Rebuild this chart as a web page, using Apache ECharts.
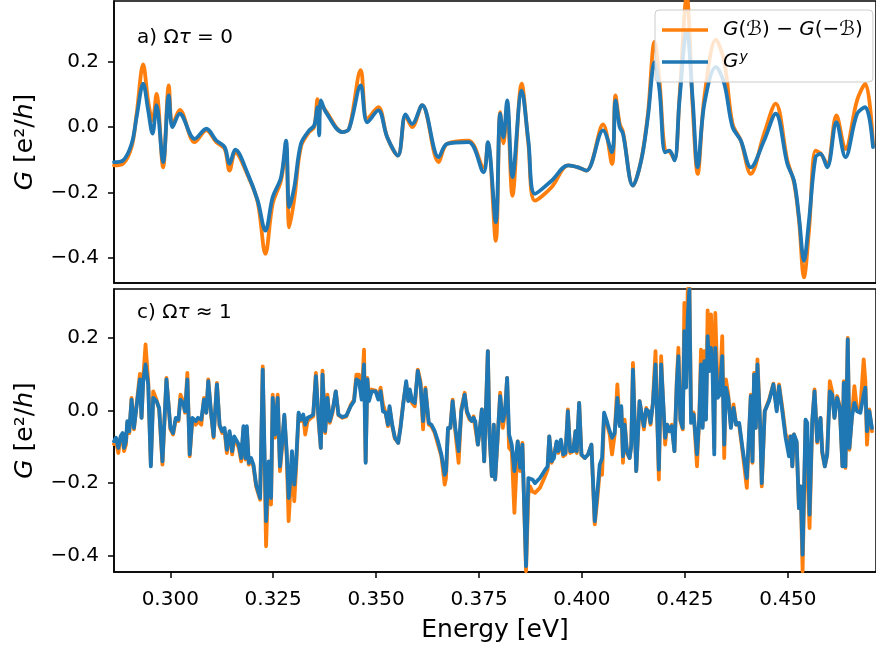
<!DOCTYPE html>
<html>
<head>
<meta charset="utf-8">
<script src="https://cdn.jsdelivr.net/npm/echarts@6/dist/echarts.min.js"></script>
<style>
html,body{margin:0;padding:0;background:#fff;}
#chart{width:876px;height:651px;}
</style>
</head>
<body>
<div id="chart"></div>
<script>
// ---------- tick labels ----------
const energyTicks = [0.300, 0.325, 0.350, 0.375, 0.400, 0.425, 0.450];
const gTicks = [-0.4, -0.2, 0.0, 0.2];

// ---------- panel a) Omega tau = 0 ----------
const energyA = [
0.28633,0.28851,0.29061,0.29182,0.29342,0.29463,0.29569,0.29666,0.29826,0.29964,
0.30053,0.30230,0.30593,0.30876,0.31118,0.31319,0.31440,0.31578,0.31882,0.32124,
0.32311,0.32487,0.32691,0.32812,0.32891,0.33012,0.33174,0.33375,0.33496,0.33576,
0.33617,0.33658,0.33779,0.34181,0.34343,0.34626,0.34786,0.35052,0.35270,0.35529,
0.35715,0.35875,0.36117,0.36521,0.36722,0.37247,0.37610,0.37714,0.37907,0.38014,
0.38093,0.38183,0.38311,0.38536,0.38698,0.38861,0.39262,0.39666,0.39908,0.40109,
0.40513,0.40731,0.40815,0.40917,0.40997,0.41239,0.41440,0.41602,0.41764,0.41885,
0.42020,0.42127,0.42248,0.42369,0.42545,0.42691,0.42811,0.42974,0.43254,0.43458,
0.43658,0.43859,0.44101,0.44425,0.44706,0.44989,0.45152,0.45273,0.45393,0.45515,
0.45674,0.45795,0.45957,0.46182,0.46400,0.46683,0.46884,0.47070];
const gyA = [
-0.107,-0.102,-0.051,0.031,0.133,0.051,-0.020,0.067,-0.107,0.097,
0.000,0.041,-0.036,-0.005,-0.041,-0.061,-0.112,-0.069,-0.143,-0.225,
-0.317,-0.215,-0.153,-0.041,-0.245,-0.184,-0.051,-0.010,0.005,0.061,
-0.025,0.082,0.046,-0.015,-0.005,0.128,0.015,0.051,-0.031,-0.087,
0.039,0.010,0.067,-0.092,-0.051,-0.046,-0.138,-0.046,-0.291,0.041,
-0.031,0.082,-0.153,0.112,-0.041,-0.204,-0.164,-0.117,-0.123,-0.133,
-0.010,-0.077,0.082,0.000,-0.020,-0.179,-0.102,0.031,0.199,0.112,
-0.077,-0.072,-0.102,0.082,0.297,0.082,-0.123,0.072,0.184,0.133,
0.000,-0.041,-0.123,-0.041,0.041,-0.112,-0.164,-0.276,-0.409,-0.286,
-0.092,-0.082,-0.123,0.015,-0.092,0.041,0.061,-0.061];
const diffA = [
-0.117,-0.112,-0.060,0.040,0.192,0.080,0.020,0.102,-0.123,0.128,
0.005,0.053,-0.046,-0.010,-0.046,-0.066,-0.133,-0.077,-0.148,-0.230,
-0.388,-0.235,-0.163,-0.060,-0.307,-0.220,-0.060,-0.015,0.000,0.086,
0.030,0.070,0.050,-0.015,-0.005,0.174,0.025,0.061,-0.031,-0.087,
0.035,0.000,0.067,-0.107,-0.051,-0.041,-0.123,-0.050,-0.348,0.046,
-0.050,0.061,-0.210,0.133,-0.050,-0.225,-0.184,-0.117,-0.123,-0.133,
0.008,-0.113,0.097,0.010,-0.015,-0.179,-0.100,0.040,0.261,0.140,
-0.072,-0.075,-0.100,0.090,0.400,0.061,-0.143,0.092,0.268,0.199,
0.010,-0.041,-0.143,-0.020,0.072,-0.102,-0.170,-0.286,-0.460,-0.317,
-0.072,-0.080,-0.113,0.036,-0.067,0.082,0.133,-0.055];

// ---------- panel c) Omega tau ~ 1 ----------
const energyC = [
0.28633,
0.28681,0.28738,0.28794,0.28843,0.28875,0.28923,0.28956,0.29004,0.29060,0.29117,
0.29165,0.29262,0.29302,0.29343,0.29399,0.29464,0.29528,0.29585,0.29665,0.29730,
0.29810,0.29907,0.30004,0.30069,0.30133,0.30198,0.30246,0.30311,0.30359,0.30415,
0.30472,0.30536,0.30617,0.30673,0.30754,0.30819,0.30875,0.30923,0.30988,0.31052,
0.31133,0.31198,0.31262,0.31319,0.31375,0.31440,0.31504,0.31553,0.31601,0.31665,
0.31722,0.31778,0.31827,0.31859,0.31907,0.31964,0.32020,0.32085,0.32182,0.32246,
0.32286,0.32327,0.32391,0.32448,0.32488,0.32544,0.32609,0.32665,0.32714,0.32770,
0.32827,0.32875,0.32907,0.32956,0.33012,0.33053,0.33117,0.33174,0.33230,0.33278,
0.33335,0.33416,0.33472,0.33537,0.33601,0.33657,0.33698,0.33762,0.33819,0.33875,
0.33940,0.34020,0.34085,0.34182,0.34278,0.34383,0.34464,0.34520,
0.34585,0.34650,0.34706,0.34746,0.34787,0.34827,0.34891,0.34988,0.35053,0.35109,
0.35166,0.35230,0.35287,0.35327,0.35391,0.35456,0.35537,0.35593,0.35658,0.35730,
0.35779,0.35819,0.35875,0.35940,0.36012,0.36077,0.36141,0.36198,0.36279,0.36343,
0.36424,0.36504,0.36585,0.36666,0.36698,0.36746,0.36803,0.36859,0.36924,0.37004,
0.37069,0.37150,0.37206,0.37271,0.37327,0.37367,0.37408,0.37472,0.37513,0.37569,
0.37625,0.37666,0.37714,0.37754,0.37811,0.37859,0.37892,0.37956,0.38013,0.38077,
0.38133,0.38182,0.38230,0.38295,0.38359,0.38440,0.38497,0.38553,0.38601,0.38642,
0.38698,0.38738,0.38795,0.38859,0.38980,0.39085,0.39166,0.39206,0.39263,0.39319,
0.39384,0.39424,0.39488,0.39545,0.39601,0.39658,0.39714,0.39787,0.39843,0.39875,
0.39932,0.39988,0.40069,0.40150,0.40230,0.40311,0.40376,0.40432,0.40489,0.40537,
0.40593,
0.40634,0.40674,0.40731,0.40795,0.40860,0.40916,0.40956,0.40997,0.41037,0.41093,
0.41158,0.41198,0.41239,0.41319,0.41400,0.41440,0.41505,0.41561,0.41618,0.41666,
0.41722,0.41787,0.41868,0.41924,0.41964,0.42021,0.42069,0.42126,0.42182,0.42247,
0.42303,0.42343,0.42392,0.42448,0.42488,0.42529,0.42569,0.42609,0.42650,0.42714,
0.42795,0.42851,0.42892,0.42932,0.42972,0.43013,0.43053,0.43093,0.43134,0.43174,
0.43214,0.43239,0.43295,0.43351,0.43408,0.43456,0.43497,0.43553,0.43618,0.43682,
0.43747,0.43819,0.43900,0.44005,0.44061,0.44102,0.44142,0.44182,0.44223,0.44263,
0.44328,0.44368,0.44440,0.44545,0.44650,0.44731,0.44787,0.44868,0.44948,0.45029,
0.45069,0.45110,0.45150,0.45215,0.45271,0.45311,0.45360,0.45432,0.45473,0.45529,
0.45594,0.45650,0.45715,0.45795,0.45836,0.45900,0.45957,0.46021,0.46078,0.46134,
0.46199,0.46263,0.46328,0.46360,0.46400,0.46457,0.46497,0.46561,0.46618,0.46682,
0.46763,0.46844,0.46884,0.46924,0.46981,0.47045];
const gyC = [
-0.085,
-0.075,-0.103,-0.071,-0.062,-0.103,-0.085,-0.029,-0.057,0.030,-0.048,
-0.052,0.086,-0.020,0.081,0.127,0.072,-0.154,0.035,0.026,0.007,
-0.140,0.086,-0.048,-0.062,-0.020,-0.025,0.030,0.021,-0.002,0.086,
-0.121,-0.020,-0.029,-0.020,-0.025,0.030,-0.006,0.081,-0.002,-0.071,
0.072,-0.039,-0.057,-0.048,-0.108,-0.057,-0.112,-0.071,-0.066,-0.094,
-0.131,-0.043,-0.131,-0.043,-0.144,-0.131,-0.149,-0.204,-0.241,0.113,
0.118,-0.305,-0.140,-0.241,0.035,-0.066,0.035,-0.154,-0.094,-0.011,
-0.112,-0.241,-0.204,-0.112,-0.204,-0.149,-0.006,-0.025,-0.011,-0.039,
-0.020,-0.016,-0.011,0.095,-0.020,-0.103,0.099,-0.057,0.035,-0.029,
-0.002,0.053,-0.011,-0.018,-0.014,0.012,0.026,0.086,
0.081,0.030,0.127,-0.144,0.086,0.026,0.053,0.053,0.030,0.053,
-0.002,-0.006,-0.039,0.012,-0.039,-0.075,-0.089,-0.048,0.017,0.081,
0.026,0.058,0.026,0.021,0.109,0.072,-0.029,0.058,-0.034,-0.039,
-0.057,-0.085,-0.121,-0.177,-0.167,-0.048,-0.048,0.026,-0.048,-0.112,
-0.002,0.044,-0.002,-0.020,-0.029,-0.020,-0.029,-0.094,-0.057,0.003,
-0.140,-0.002,0.164,-0.066,-0.181,-0.039,-0.190,-0.066,0.040,-0.029,
-0.002,0.090,-0.066,-0.094,-0.167,-0.085,-0.158,-0.094,-0.094,-0.429,
-0.186,-0.181,-0.190,-0.200,-0.186,-0.167,-0.154,-0.071,-0.140,-0.131,
-0.085,-0.112,-0.080,-0.121,-0.117,-0.002,-0.112,-0.112,-0.057,-0.112,
0.021,-0.121,-0.131,-0.121,-0.094,-0.305,-0.223,-0.149,-0.131,-0.006,
-0.025,
-0.025,-0.057,-0.075,-0.062,0.035,-0.043,0.012,-0.126,-0.039,-0.112,
-0.131,-0.098,0.113,-0.167,0.026,-0.002,-0.043,0.003,-0.002,-0.034,
0.017,0.127,-0.163,0.127,0.044,-0.075,-0.039,-0.057,-0.043,-0.112,
0.072,0.150,-0.025,-0.048,0.219,0.063,0.256,0.334,-0.034,-0.011,
-0.121,-0.020,0.127,-0.048,0.136,-0.025,0.205,0.109,0.173,0.104,
-0.121,0.173,0.035,0.044,0.150,-0.094,0.063,0.035,-0.048,0.007,
-0.039,-0.034,-0.103,-0.186,-0.057,0.040,-0.140,0.099,-0.048,0.127,
-0.039,-0.200,-0.002,0.026,0.072,-0.002,0.067,-0.002,-0.075,-0.126,
-0.071,-0.154,-0.066,-0.085,-0.269,-0.209,-0.397,-0.025,-0.034,-0.287,
-0.029,0.053,-0.085,-0.020,-0.112,-0.154,-0.121,0.053,0.044,-0.020,
0.035,0.007,-0.154,0.076,-0.154,0.196,-0.103,-0.016,0.021,-0.002,
-0.006,0.044,0.063,-0.057,-0.002,-0.048];
const diffC = [
-0.092,
-0.085,-0.117,-0.075,-0.071,-0.112,-0.094,-0.034,-0.062,0.035,-0.052,
-0.057,0.101,-0.020,0.090,0.182,0.081,-0.149,0.053,0.030,0.003,
-0.149,0.090,-0.052,-0.066,-0.025,-0.029,0.044,0.026,-0.006,0.104,
-0.126,-0.025,-0.039,-0.029,-0.039,0.035,-0.006,0.086,-0.006,-0.075,
0.076,-0.043,-0.062,-0.057,-0.117,-0.062,-0.121,-0.075,-0.071,-0.103,
-0.140,-0.048,-0.135,-0.048,-0.149,-0.135,-0.154,-0.209,-0.246,0.122,
0.122,-0.374,-0.149,-0.259,0.044,-0.075,0.044,-0.167,-0.103,-0.016,
-0.121,-0.305,-0.241,-0.121,-0.250,-0.167,-0.011,-0.029,-0.016,-0.066,
-0.029,-0.020,-0.016,0.104,-0.029,-0.103,0.110,-0.062,0.044,-0.034,
-0.006,0.053,-0.013,-0.020,-0.016,0.015,0.030,0.099,
0.099,0.035,0.168,-0.140,0.090,0.030,0.058,0.055,0.035,0.063,
0.017,-0.006,-0.043,0.007,-0.043,-0.077,-0.089,-0.043,0.021,0.076,
0.030,0.053,0.021,0.012,0.113,0.081,-0.052,0.063,-0.039,-0.043,
-0.062,-0.094,-0.126,-0.204,-0.186,-0.052,-0.048,0.030,-0.057,-0.144,
0.003,0.049,-0.006,-0.025,-0.029,-0.016,-0.016,-0.094,-0.057,0.003,
-0.140,-0.002,0.164,-0.066,-0.181,-0.039,-0.190,-0.071,0.049,-0.048,
-0.006,0.090,-0.103,-0.112,-0.282,-0.085,-0.167,-0.089,-0.085,-0.443,
-0.232,-0.209,-0.223,-0.227,-0.213,-0.186,-0.163,-0.071,-0.144,-0.121,
-0.089,-0.117,-0.085,-0.126,-0.121,0.003,-0.117,-0.112,-0.057,-0.117,
0.021,-0.123,-0.131,-0.121,-0.094,-0.314,-0.241,-0.167,-0.177,-0.020,
-0.029,
-0.025,-0.066,-0.121,-0.066,0.072,-0.039,0.005,-0.144,-0.025,-0.117,
-0.131,-0.094,0.131,-0.167,0.026,-0.002,-0.052,0.007,-0.006,-0.039,
0.021,0.164,-0.190,0.150,0.044,-0.094,-0.039,-0.057,-0.039,-0.112,
0.081,0.173,-0.029,-0.052,0.297,0.072,0.329,0.348,-0.002,-0.006,
-0.154,-0.016,0.168,-0.043,0.164,-0.020,0.276,0.118,0.265,0.164,
-0.103,0.269,0.063,0.063,0.205,-0.131,0.086,0.044,-0.043,0.017,
-0.039,-0.039,-0.112,-0.213,-0.062,0.044,-0.144,0.104,-0.048,0.141,
-0.039,-0.209,-0.002,0.030,0.074,0.003,0.072,0.007,-0.066,-0.080,
-0.071,-0.154,-0.066,-0.089,-0.269,-0.209,-0.443,-0.029,-0.034,-0.324,
-0.034,0.058,-0.089,-0.020,-0.117,-0.154,-0.121,0.081,0.053,-0.020,
0.040,0.012,-0.154,0.081,-0.158,0.200,-0.108,-0.011,0.067,0.003,
0.007,0.141,0.081,-0.094,0.003,-0.057];

// ---------- chart ----------
const FONT = 'DejaVu Sans';
const ORANGE = '#ff7f0e', BLUE = '#1f77b4';
const pairs = (xs, ys) => xs.map((x, i) => [x, ys[i]]);
const fmtG = v => (v < -1e-9 ? '\u2212' : '') + Math.abs(v).toFixed(1);

function xAxis(gi, labels) {
  return {
    type: 'value', gridIndex: gi, min: 0.28633, max: 0.47143,
    axisLine: {show: true, onZero: false, lineStyle: {color: '#000', width: 1.5}},
    axisTick: {show: labels, length: 6, lineStyle: {color: '#000', width: 1.5}, customValues: energyTicks},
    axisLabel: {show: labels, customValues: energyTicks, formatter: v => v.toFixed(3), margin: 18,
      fontSize: 20, fontFamily: FONT, color: '#000'},
    splitLine: {show: false},
    name: labels ? 'Energy [eV]' : '', nameLocation: 'middle', nameGap: 46,
    nameTextStyle: {fontSize: 25, fontFamily: FONT, color: '#000'}
  };
}
function yAxis(gi, min, max) {
  return {
    type: 'value', gridIndex: gi, min: min, max: max,
    axisLine: {show: true, onZero: false, lineStyle: {color: '#000', width: 1.5}},
    axisTick: {show: true, length: 6, lineStyle: {color: '#000', width: 1.5}, customValues: gTicks},
    axisLabel: {customValues: gTicks, formatter: fmtG, margin: 15, fontSize: 20, fontFamily: FONT, color: '#000'},
    splitLine: {show: false},
    name: '{i|G} [e\u00B2/{i|h}]', nameLocation: 'middle', nameRotate: 90, nameGap: 76,
    nameTextStyle: {fontSize: 25, fontFamily: FONT, color: '#000',
      rich: {i: {fontStyle: 'italic', fontSize: 25, fontFamily: FONT, color: '#000'}}}
  };
}
function line(name, color, xi, data, smooth, z) {
  return {
    name: name, type: 'line', xAxisIndex: xi, yAxisIndex: xi, data: data,
    showSymbol: false, symbol: 'none', smooth: smooth, z: z,
    lineStyle: {color: color, width: 3.8, join: 'round', cap: 'round'},
    itemStyle: {color: color}, emphasis: {disabled: true}
  };
}

const chart = echarts.init(document.getElementById('chart'), null, {renderer: 'canvas'});
chart.setOption({
  animation: false,
  backgroundColor: '#fff',
  grid: [
    {left: 114, top: 1, width: 765, height: 282, show: true, borderColor: '#000', borderWidth: 1.5, containLabel: false},
    {left: 114, top: 289, width: 765, height: 283, show: true, borderColor: '#000', borderWidth: 1.5, containLabel: false}
  ],
  xAxis: [xAxis(0, false), xAxis(1, true)],
  yAxis: [yAxis(0, -0.477, 0.386), yAxis(1, -0.445, 0.335)],
  legend: {
    orient: 'vertical', left: 655, top: 10,
    icon: 'rect', itemWidth: 46, itemHeight: 3.5, itemGap: 8,
    padding: [8, 10, 8, 7],
    backgroundColor: 'rgba(255,255,255,0.8)', borderColor: '#cccccc', borderWidth: 1, borderRadius: 4,
    data: ['diff', 'gy'],
    selectedMode: false,
    formatter: n => n === 'diff' ? '{i|G}(\u212C) \u2212 {i|G}(\u2212\u212C)' : '{i|G}{s|y}',
    textStyle: {fontSize: 20, fontFamily: FONT, color: '#000', padding: [0, 0, 0, 10], lineHeight: 24,
      rich: {i: {fontStyle: 'italic', fontSize: 20, fontFamily: FONT, color: '#000', lineHeight: 24},
             s: {fontStyle: 'italic', fontSize: 14, fontFamily: FONT, color: '#000', verticalAlign: 'top', padding: [0, 0, 8, 1]}}}
  },
  graphic: [
    {type: 'text', left: 137, top: 28, z: 10,
      style: {text: 'a) \u03A9{i|\u03C4} = 0', fontSize: 20, fontFamily: FONT, fill: '#000',
        rich: {i: {fontStyle: 'italic', fontSize: 20, fontFamily: FONT, fill: '#000'}}}},
    {type: 'text', left: 137, top: 303, z: 10,
      style: {text: 'c) \u03A9{i|\u03C4} \u2248 1', fontSize: 20, fontFamily: FONT, fill: '#000',
        rich: {i: {fontStyle: 'italic', fontSize: 20, fontFamily: FONT, fill: '#000'}}}}
  ],
  series: [
    line('diff', ORANGE, 0, pairs(energyA, diffA), 0.35, 2),
    line('gy', BLUE, 0, pairs(energyA, gyA), 0.35, 3),
    line('diff', ORANGE, 1, pairs(energyC, diffC), false, 2),
    line('gy', BLUE, 1, pairs(energyC, gyC), false, 3)
  ]
});
</script>
</body>
</html>
